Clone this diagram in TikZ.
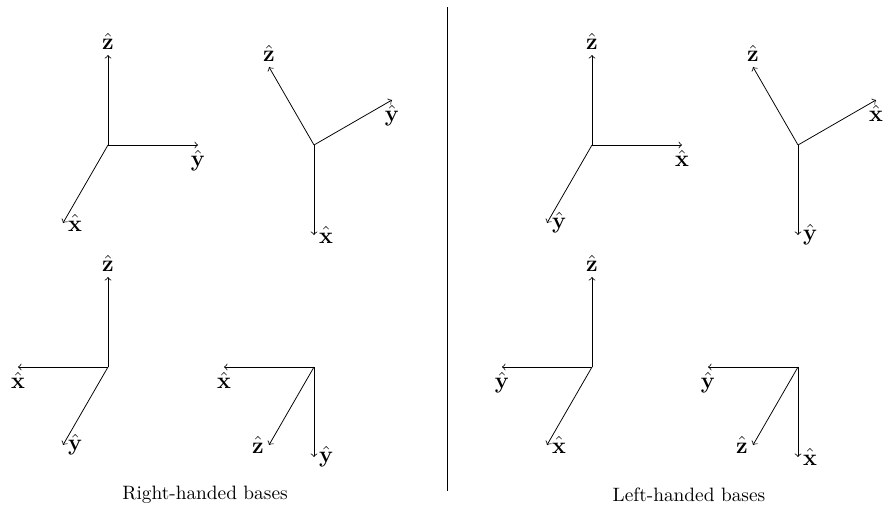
\documentclass[tikz,border=0pt]{standalone}
\begin{document}
\begin{tikzpicture}[x=0.517pt,y=-0.517pt,
  axis/.style={->,line width=0.4pt},
  lab/.style={inner sep=2.5pt,font=\large},
  captext/.style={inner sep=2pt}]
\useasboundingbox (0,0) rectangle (889,509);
% ---------------- Right-handed ----------------
% frame 1
\coordinate (o1) at (108,145);
\coordinate (z1) at (108,55);
\coordinate (y1) at (198,145);
\coordinate (x1) at (63,223);
\draw[axis] (o1) -- (z1);
\draw[axis] (o1) -- (y1);
\draw[axis] (o1) -- (x1);
\node[lab,above] (lz1) at (z1) {$\hat{\mathbf{z}}$};
\node[lab,below] (ly1) at (y1) {$\hat{\mathbf{y}}$};
\node[lab,right] (lx1) at (x1) {$\hat{\mathbf{x}}$};
% frame 2
\coordinate (o2) at (314,145);
\coordinate (z2) at (269,67);
\coordinate (y2) at (392,100);
\coordinate (x2) at (314,235);
\draw[axis] (o2) -- (z2);
\draw[axis] (o2) -- (y2);
\draw[axis] (o2) -- (x2);
\node[lab,above] (lz2) at (z2) {$\hat{\mathbf{z}}$};
\node[lab,below] (ly2) at (y2) {$\hat{\mathbf{y}}$};
\node[lab,right] (lx2) at (x2) {$\hat{\mathbf{x}}$};
% frame 3
\coordinate (o3) at (108,367);
\coordinate (z3) at (108,277);
\coordinate (x3) at (18,367);
\coordinate (y3) at (63,445);
\draw[axis] (o3) -- (z3);
\draw[axis] (o3) -- (x3);
\draw[axis] (o3) -- (y3);
\node[lab,above] (lz3) at (z3) {$\hat{\mathbf{z}}$};
\node[lab,below] (lx3) at (x3) {$\hat{\mathbf{x}}$};
\node[lab,right] (ly3) at (y3) {$\hat{\mathbf{y}}$};
% frame 4
\coordinate (o4) at (314,367);
\coordinate (x4) at (224,367);
\coordinate (z4) at (269,445);
\coordinate (y4) at (314,457);
\draw[axis] (o4) -- (x4);
\draw[axis] (o4) -- (z4);
\draw[axis] (o4) -- (y4);
\node[lab,below] (lx4) at (x4) {$\hat{\mathbf{x}}$};
\node[lab,left] (lz4) at (z4) {$\hat{\mathbf{z}}$};
\node[lab,right] (ly4) at (y4) {$\hat{\mathbf{y}}$};
% ---------------- Left-handed ----------------
% frame 5
\coordinate (o5) at (592,145);
\coordinate (z5) at (592,55);
\coordinate (x5) at (682,145);
\coordinate (y5) at (547,223);
\draw[axis] (o5) -- (z5);
\draw[axis] (o5) -- (x5);
\draw[axis] (o5) -- (y5);
\node[lab,above] (lz5) at (z5) {$\hat{\mathbf{z}}$};
\node[lab,below] (lx5) at (x5) {$\hat{\mathbf{x}}$};
\node[lab,right] (ly5) at (y5) {$\hat{\mathbf{y}}$};
% frame 6
\coordinate (o6) at (798,145);
\coordinate (z6) at (753,67);
\coordinate (x6) at (876,100);
\coordinate (y6) at (798,235);
\draw[axis] (o6) -- (z6);
\draw[axis] (o6) -- (x6);
\draw[axis] (o6) -- (y6);
\node[lab,above] (lz6) at (z6) {$\hat{\mathbf{z}}$};
\node[lab,below] (lx6) at (x6) {$\hat{\mathbf{x}}$};
\node[lab,right] (ly6) at (y6) {$\hat{\mathbf{y}}$};
% frame 7
\coordinate (o7) at (592,367);
\coordinate (z7) at (592,277);
\coordinate (y7) at (502,367);
\coordinate (x7) at (547,445);
\draw[axis] (o7) -- (z7);
\draw[axis] (o7) -- (y7);
\draw[axis] (o7) -- (x7);
\node[lab,above] (lz7) at (z7) {$\hat{\mathbf{z}}$};
\node[lab,below] (ly7) at (y7) {$\hat{\mathbf{y}}$};
\node[lab,right] (lx7) at (x7) {$\hat{\mathbf{x}}$};
% frame 8
\coordinate (o8) at (798,367);
\coordinate (y8) at (708,367);
\coordinate (z8) at (753,445);
\coordinate (x8) at (798,457);
\draw[axis] (o8) -- (y8);
\draw[axis] (o8) -- (z8);
\draw[axis] (o8) -- (x8);
\node[lab,below] (ly8) at (y8) {$\hat{\mathbf{y}}$};
\node[lab,left] (lz8) at (z8) {$\hat{\mathbf{z}}$};
\node[lab,right] (lx8) at (x8) {$\hat{\mathbf{x}}$};
% ---------------- separator and captions ----------------
\coordinate (sepTop) at (447,7);
\coordinate (sepBot) at (447,491);
\draw[line width=0.4pt] (sepTop) -- (sepBot);
\node[captext] (capR) at (205,495) {Right-handed bases};
\node[captext] (capL) at (689,495) {Left-handed bases};
\end{tikzpicture}
\end{document}
